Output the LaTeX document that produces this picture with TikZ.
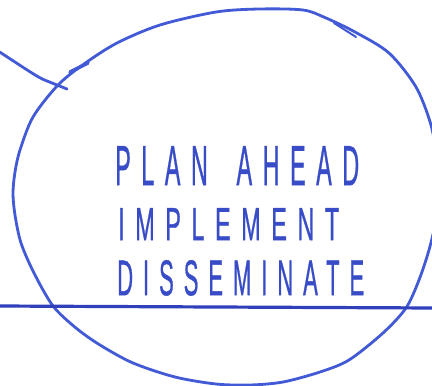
\documentclass[tikz,border=0pt]{standalone}
\usepackage{fontspec}
\usepackage{graphicx}
\setmainfont{Liberation Sans}
\newfontfamily\handfont[LetterSpace=45,FakeBold=1]{Liberation Sans}
\definecolor{penblue}{RGB}{66,90,214}
\definecolor{inkblue}{RGB}{48,64,186}
\definecolor{textblue}{RGB}{56,76,200}
\tikzset{
  pen/.style={draw=penblue, line width=2.8pt, line cap=round, line join=round},
  rule/.style={draw=inkblue, line width=3.2pt, line cap=round},
  hand/.style={inner sep=0pt, anchor=north west, text=textblue, font=\handfont},
}
\begin{document}
\begin{tikzpicture}[x=1pt,y=-1pt]
\useasboundingbox (0,0) rectangle (432,386);
\clip (0,0) rectangle (432,386);
\fill[white] (0,0) rectangle (432,386);
% hand-drawn ellipse
\draw[pen] plot[smooth cycle, tension=0.5] coordinates {
  (216,12) (259,9) (303,10) (326,18) (355,32) (389,53) (416,87) (431,125)
  (437,160) (439,190) (436,220) (429,250) (419,280) (406,308) (383,333)
  (349,360) (320,372) (283,382) (250,385) (216,384) (175,377) (133,363)
  (100,345) (76,328) (53,306) (34,273) (21,243) (15,215) (13,193) (15,172)
  (20,150) (33,117) (58,85) (84,64) (117,43) (160,25)};
% small overlapping pen strokes
\coordinate (t1a) at (334,23); \coordinate (t1b) at (356,37);
\draw[pen, line width=2pt] (t1a) -- (t1b);
\coordinate (t2a) at (70,72); \coordinate (t2b) at (88,63);
\draw[pen, line width=3.4pt] (t2a) -- (t2b);
% upper-left line
\coordinate (la) at (-2,51); \coordinate (lb) at (47,81); \coordinate (lc) at (67,89);
\draw[pen] (la) .. controls (20,65) and (38,78) .. (lb) -- (lc);
% horizontal line
\coordinate (ha) at (-2,306); \coordinate (hb) at (434,308);
\draw[rule] (ha) -- (hb);
% text
\node[hand] (plan) at (115,146) {\resizebox{244pt}{39pt}{PLAN\ \hspace{0.5em}AHEAD}};
\node[hand] (impl) at (118,208) {\resizebox{221pt}{32pt}{IMPLEMENT}};
\node[hand] (diss) at (117,260) {\resizebox{247pt}{35pt}{DISSEMINATE}};
\end{tikzpicture}
\end{document}
